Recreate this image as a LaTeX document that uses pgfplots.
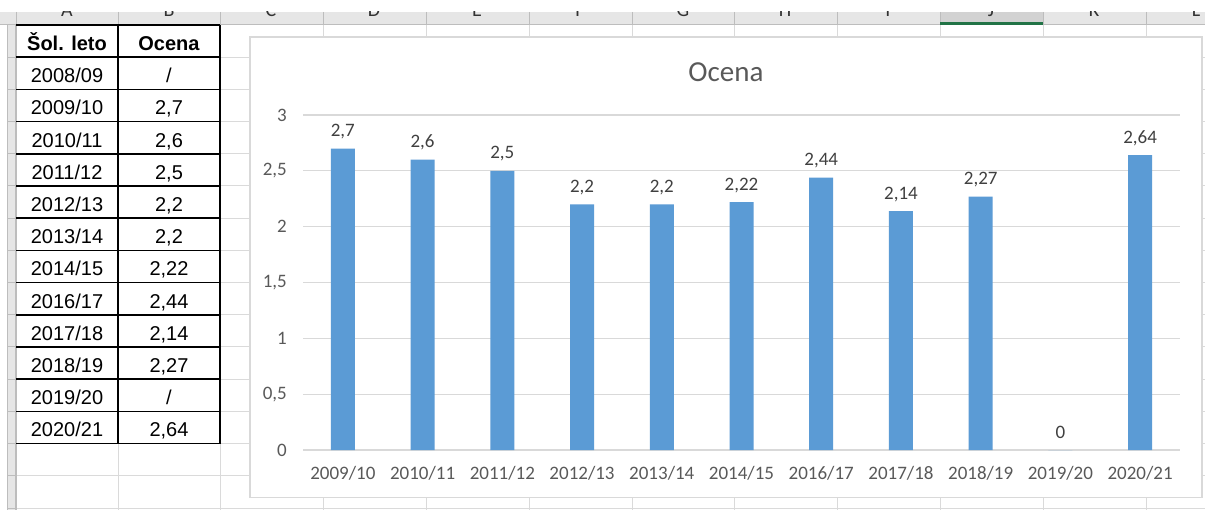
\documentclass[border=0pt]{standalone}
\usepackage{fontspec}
\usepackage{pgfplots}
\pgfplotsset{compat=1.18}
\setmainfont{Liberation Sans}
\newfontfamily\calibri{Carlito}

\definecolor{barblue}{HTML}{5B9BD5}
\definecolor{txt}{HTML}{595959}
\definecolor{lbl}{HTML}{404040}
\definecolor{chartgrid}{HTML}{D9D9D9}
\definecolor{cellgrid}{HTML}{DADADA}
\definecolor{hdr}{HTML}{E6E6E6}
\definecolor{hdrsel}{HTML}{D2D2D2}
\definecolor{hdrline}{HTML}{BDBDBD}
\definecolor{hdrtxt}{HTML}{333333}
\definecolor{xlgreen}{HTML}{217346}

\begin{document}
\begin{tikzpicture}
\begin{scope}[x=1pt, y=-1pt]
\path[use as bounding box] (0,0) rectangle (1205,510);

% sheet grid
\foreach \x in {16,118,220,323,426,529,632,734,837,940,1043,1146}
  \draw[cellgrid, line width=1pt] (\x,25) -- (\x,510);
\foreach \i in {0,...,15}
  \draw[cellgrid, line width=1pt] (16,{25+32.2*\i}) -- (1205,{25+32.2*\i});

% column headers (cut off at the top)
\fill[hdr] (0,12) rectangle (1205,25);
\fill[hdrsel] (940,12) rectangle (1043,25);
\begin{scope}
  \clip (0,12) rectangle (1205,25);
  \foreach \x/\l in {67/A,169/B,271/C,374/D,477/E,580/F,683/G,785/H,888/I,991/J,1094/K,1196/L}
    \node[anchor=base, inner sep=0pt, text=hdrtxt, font=\calibri\fontsize{20}{24}\selectfont] at (\x,17) {\l};
\end{scope}
\foreach \x in {16,118,220,323,426,529,632,734,837,940,1043,1146}
  \draw[hdrline, line width=1pt] (\x,12) -- (\x,25);
\draw[hdrline, line width=1pt] (0,25) -- (1205,25);
\fill[xlgreen] (940,22.5) rectangle (1043,25);

% row header strip
\fill[hdr] (7,25) rectangle (16,510);
\draw[hdrline, line width=1pt] (7,25) -- (7,510);
\draw[hdrline, line width=1.5pt] (16,25) -- (16,510);
\foreach \i in {0,...,15}
  \draw[hdrline, line width=1pt] (7,{25+32.2*\i}) -- (16,{25+32.2*\i});

% table
\foreach \i in {0,...,13}
  \draw[black, line width=1.5pt] (16,{25+32.2*\i}) -- (220,{25+32.2*\i});
\draw[black, line width=1.5pt] (118,25) -- (118,443.6);
\draw[black, line width=1.5pt] (220,25) -- (220,443.6);
\node[anchor=base, inner sep=0pt, font=\bfseries\fontsize{20}{24}\selectfont] at (67,50.5) {Šol. leto};
\node[anchor=base, inner sep=0pt, font=\bfseries\fontsize{20}{24}\selectfont] at (169,50.5) {Ocena};
\foreach \i/\a/\b in {1/2008\slash09/\slash, 2/2009\slash10/{2,7}, 3/2010\slash11/{2,6}, 4/2011\slash12/{2,5},
    5/2012\slash13/{2,2}, 6/2013\slash14/{2,2}, 7/2014\slash15/{2,22}, 8/2016\slash17/{2,44},
    9/2017\slash18/{2,14}, 10/2018\slash19/{2,27}, 11/2019\slash20/\slash, 12/2020\slash21/{2,64}} {
  \node[anchor=base, inner sep=0pt, font=\fontsize{20}{24}\selectfont] at (67,{50.5+32.2*\i}) {\a};
  \node[anchor=base, inner sep=0pt, font=\fontsize{20}{24}\selectfont] at (169,{50.5+32.2*\i}) {\b};
}

% chart area
\draw[chartgrid, line width=1.2pt, fill=white] (250,37) rectangle (1202,497.5);
\node[anchor=base, inner sep=0pt, text=txt, font=\calibri\fontsize{29}{34}\selectfont] at (726,82) {Ocena};
\end{scope}

\begin{axis}[
  at={(303pt,-450pt)}, anchor=south west,
  scale only axis, width=877pt, height=335pt,
  ymin=0, ymax=3, ytick={0,0.5,1,1.5,2,2.5,3},
  xmin=-0.5, xmax=10.5, xtick={0,...,10},
  xticklabels={2009/10,2010/11,2011/12,2012/13,2013/14,2014/15,2016/17,2017/18,2018/19,2019/20,2020/21},
  ybar, bar width=24pt,
  axis line style={draw=none}, major tick length=0pt,
  ymajorgrids, grid style={chartgrid, line width=1.2pt},
  tick label style={font=\calibri\fontsize{19}{23}\selectfont, text=txt, inner sep=0pt},
  yticklabel style={anchor=east, xshift=-16pt},
  xticklabel style={anchor=north, yshift=-16pt},
  /pgf/number format/use comma,
  /pgf/number format/assume math mode=true,
  nodes near coords,
  every node near coord/.append style={font=\calibri\fontsize{19}{23}\selectfont, text=lbl, anchor=base, yshift=12pt, inner sep=0pt},
  clip=false,
]
\addplot[fill=barblue, draw=none] coordinates {
  (0,2.7) (1,2.6) (2,2.5) (3,2.2) (4,2.2) (5,2.22)
  (6,2.44) (7,2.14) (8,2.27) (9,0) (10,2.64)
};
\end{axis}
\end{tikzpicture}
\end{document}
